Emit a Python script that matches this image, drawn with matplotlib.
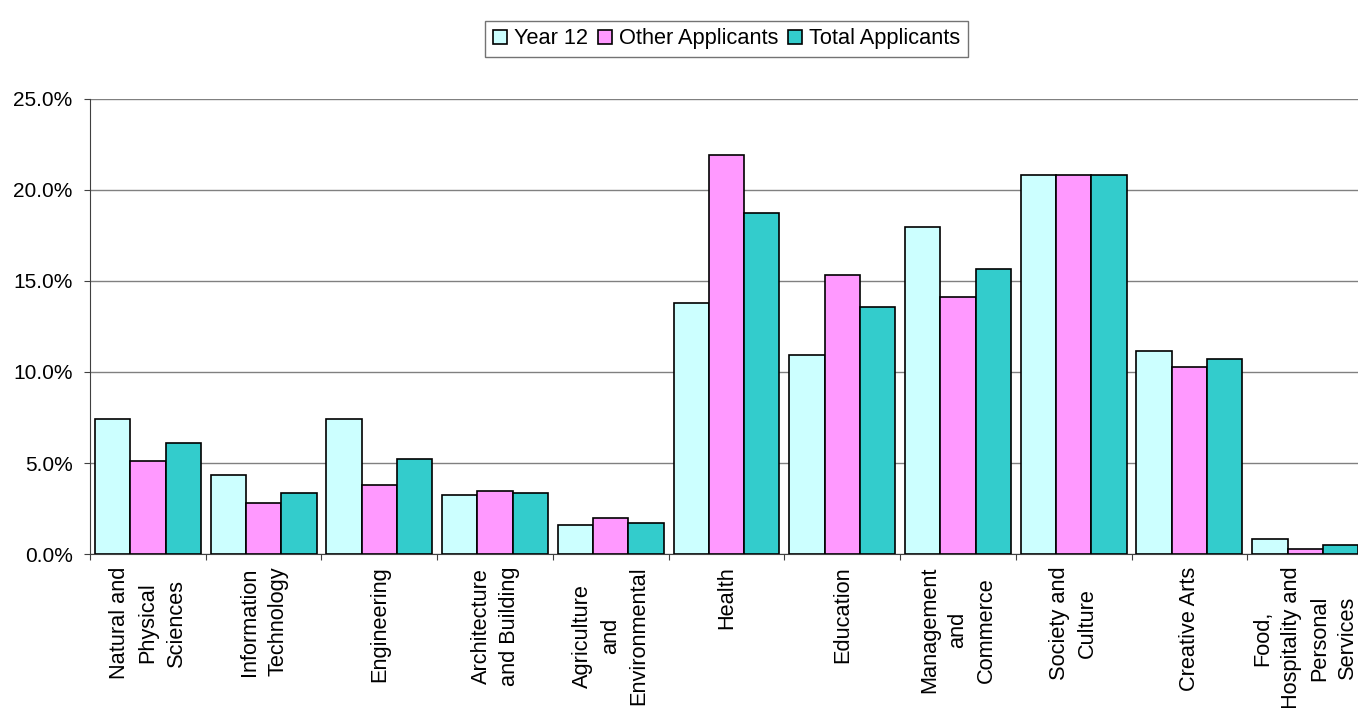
import matplotlib.pyplot as plt
import numpy as np
from matplotlib.ticker import FuncFormatter

plt.rcParams['font.family'] = ['Liberation Sans', 'DejaVu Sans']

# Datos
categorias = ["Natural and\nPhysical\nSciences", "Information\nTechnology", "Engineering",
              "Architecture\nand Building", "Agriculture\nand\nEnvironmental", "Health",
              "Education", "Management\nand\nCommerce", "Society and\nCulture",
              "Creative Arts", "Food,\nHospitality and\nPersonal\nServices"]
year12 = [7.42, 4.34, 7.42, 3.24, 1.59, 13.80, 10.93, 17.97, 20.84, 11.15, 0.82]
otros = [5.13, 2.80, 3.79, 3.46, 1.97, 21.94, 15.33, 14.12, 20.84, 10.27, 0.27]
total = [6.12, 3.35, 5.22, 3.35, 1.70, 18.75, 13.57, 15.68, 20.84, 10.71, 0.48]
series = ["Year 12", "Other Applicants", "Total Applicants"]
colores = ["#CCFFFF", "#FF99FF", "#33CCCC"]

fig = plt.figure(figsize=(13.58, 7.08), dpi=100)
ax = fig.add_axes([0.0663, 0.2175, 0.9374, 0.6427])

x = np.arange(len(categorias))
ancho = 0.305
for i, (vals, nombre, color) in enumerate(zip([year12, otros, total], series, colores)):
    ax.bar(x + (i - 1) * ancho, np.array(vals) / 100, ancho, color=color,
           edgecolor="black", linewidth=1.2, label=nombre, zorder=3)

ax.set_xlim(-0.5, len(categorias) - 0.5)
ax.set_ylim(0, 0.25)
ax.set_yticks(np.arange(0, 0.2501, 0.05))
ax.yaxis.set_major_formatter(FuncFormatter(lambda v, p: f"{v * 100:.1f}%"))
ax.grid(axis="y", color="#808080", linewidth=1.0, zorder=0)

# Marcas del eje x en los limites de categoria
ax.set_xticks(np.arange(len(categorias) + 1) - 0.5, minor=False)
ax.set_xticklabels([])
ax.set_xticks(x, minor=True)
ax.set_xticklabels(categorias, minor=True, rotation=90, ha="center", va="top",
                   multialignment="center", fontsize=15.7, linespacing=1.45)
ax.tick_params(axis="x", which="minor", length=0, pad=9)
ax.tick_params(axis="x", which="major", length=4.5, color="#404040")
ax.tick_params(axis="y", length=4.5, color="#404040", labelsize=15, pad=8)

for lado in ["top", "right"]:
    ax.spines[lado].set_visible(False)
ax.spines["left"].set_color("#404040")
ax.spines["bottom"].set_color("#404040")

leg = ax.legend(loc="lower center", bbox_to_anchor=(0.5, 1.092), ncol=3, fontsize=15.7,
                frameon=True, fancybox=False, edgecolor="#505050", handlelength=0.65,
                handleheight=0.65, handletextpad=0.32, columnspacing=0.46,
                borderpad=0.35, borderaxespad=0)
leg.get_frame().set_linewidth(1.0)

plt.savefig("out.png", dpi=100)
plt.close()
